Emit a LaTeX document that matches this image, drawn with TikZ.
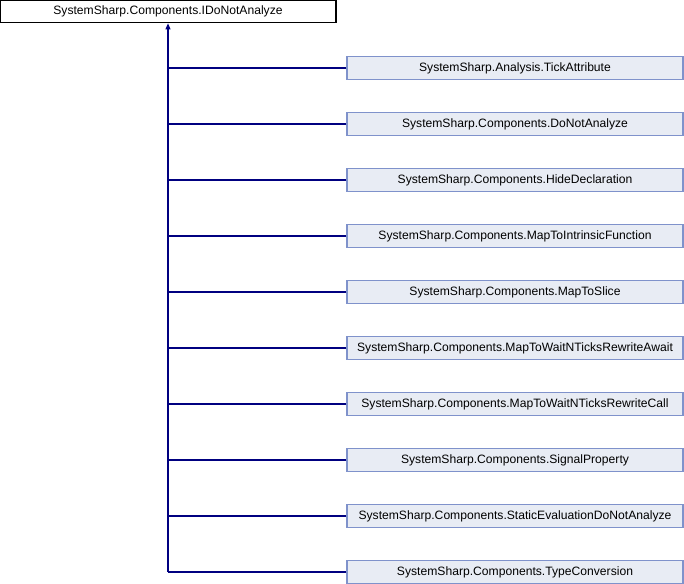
\documentclass[tikz,border=0pt]{standalone}
\usepackage{fontspec}
\setmainfont{Liberation Sans}
\usepackage{tikz}
\usetikzlibrary{arrows.meta}
\definecolor{boxfill}{HTML}{E8ECF4}
\definecolor{boxline}{HTML}{7F92CB}
\definecolor{linkline}{HTML}{000080}
\begin{document}
\begin{tikzpicture}[x=0.75pt,y=-0.75pt,line width=0.8pt,
  basebox/.style={draw=black,fill=white,inner sep=0pt,minimum width=252pt,minimum height=17pt,font=\fontsize{9.1}{11}\selectfont},
  childbox/.style={draw=boxline,fill=boxfill,inner sep=0pt,minimum width=252pt,minimum height=17pt,font=\fontsize{9.1}{11}\selectfont},
  link/.style={draw=linkline}]
      \useasboundingbox (0,0) rectangle (684,584);
      \node [basebox] (base) at (168,11.5) {SystemSharp.Components.IDoNotAnalyze};
      \foreach \x/\name in {1/SystemSharp.Analysis.TickAttribute,
                            2/SystemSharp.Components.DoNotAnalyze,
                            3/SystemSharp.Components.HideDeclaration,
                            4/SystemSharp.Components.MapToIntrinsicFunction,
                            5/SystemSharp.Components.MapToSlice,
                            6/SystemSharp.Components.MapToWaitNTicksRewriteAwait,
                            7/SystemSharp.Components.MapToWaitNTicksRewriteCall,
                            8/SystemSharp.Components.SignalProperty,
                            9/SystemSharp.Components.StaticEvaluationDoNotAnalyze,
                            10/SystemSharp.Components.TypeConversion}
       {\node [childbox] (c\x) at (515,12+56*\x) {\name};
        \draw [link] (c\x.west) -- (c\x.west -| base.south);}
      \draw [link,-{Triangle[length=4.5pt,width=3.75pt]}] (c10.west -| base.south) -- (base.south);
\end{tikzpicture}
\end{document}
